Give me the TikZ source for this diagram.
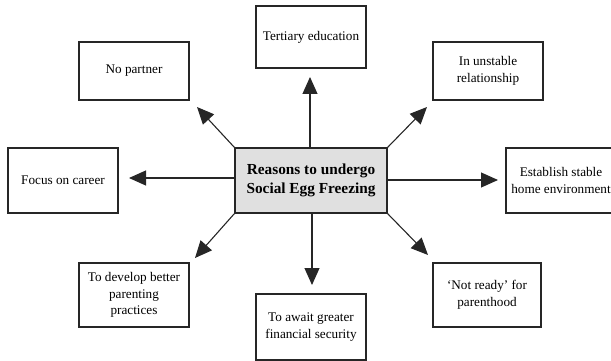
\documentclass[tikz,border=0pt]{standalone}
\usepackage{fontspec}
\setmainfont{Liberation Serif}
\usetikzlibrary{arrows.meta}
\begin{document}
\begin{tikzpicture}[x=1pt,y=-1pt,
  reason/.style={draw=black!85, line width=1.3pt, fill=white, align=center, font=\fontsize{13.2}{16.5}\selectfont, inner sep=0pt},
  hub/.style={draw=black!85, line width=1.3pt, fill=black!12, align=center, font=\bfseries\fontsize{15.3}{19}\selectfont, inner sep=0pt},
  link/.style={draw=black!85, line width=1.1pt, -{Triangle[length=17pt,width=15pt]}}]
\useasboundingbox (0,0) rectangle (611,361);
\clip (0,0) rectangle (611,361);
% center
\node[hub, minimum width=152pt, minimum height=65pt] (c) at (311,180.5) {Reasons to undergo\\Social Egg Freezing};
% outer boxes
\node[reason, minimum width=110pt, minimum height=58pt] (np) at (134,71) {No partner};
\node[reason, minimum width=110pt, minimum height=62pt] (te) at (311,37) {Tertiary education};
\node[reason, minimum width=110pt, minimum height=58pt] (iu) at (488,71) {In unstable\\relationship};
\node[reason, minimum width=110pt, minimum height=65pt] (fc) at (63,180.5) {Focus on career};
\node[reason, minimum width=110pt, minimum height=65pt] (es) at (561,180.5) {Establish stable\\home environment};
\node[reason, minimum width=110pt, minimum height=64pt] (pp) at (134,295) {To develop better\\parenting\\practices};
\node[reason, minimum width=110pt, minimum height=66pt] (fs) at (311,327) {To await greater\\financial security};
\node[reason, minimum width=108pt, minimum height=64pt] (nr) at (487,295) {‘Not ready’ for\\parenthood};
% arrow end points
\coordinate (tnp) at (197,107);
\coordinate (tte) at (310,77);
\coordinate (tiu) at (427,107);
\coordinate (tfc) at (129,178);
\coordinate (tes) at (498,180);
\coordinate (tpp) at (195,258);
\coordinate (tfs) at (312,285);
\coordinate (tnr) at (428,255);
% connectors
\draw[link] (c.north west) -- (tnp);
\draw[link] (c.north west -| tte) -- (tte);
\draw[link] (c.north east) -- (tiu);
\draw[link] (c.west |- tfc) -- (tfc);
\draw[link] (c.east |- tes) -- (tes);
\draw[link] (c.south west) -- (tpp);
\draw[link] (c.south west -| tfs) -- (tfs);
\draw[link] (c.south east) -- (tnr);
\end{tikzpicture}
\end{document}
